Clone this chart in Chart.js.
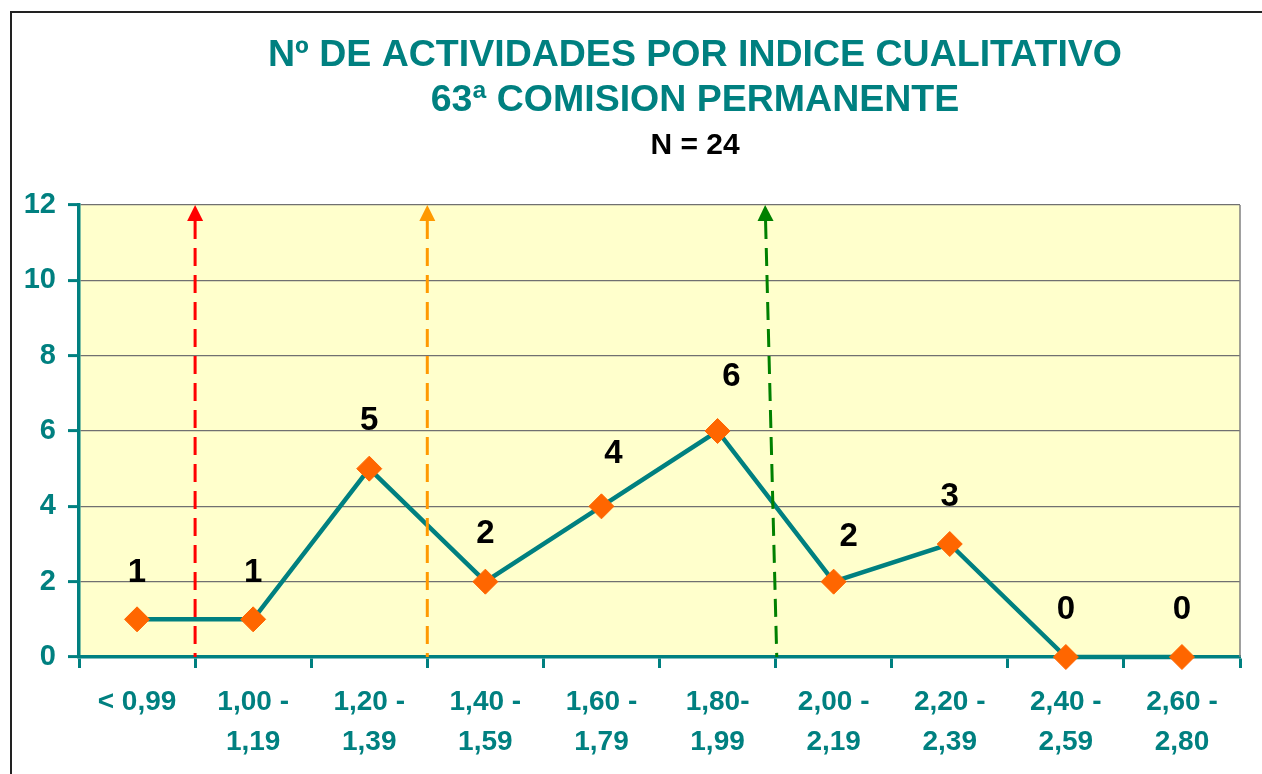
<!DOCTYPE html>
<html>
<head>
<meta charset="utf-8">
<script src="https://cdn.jsdelivr.net/npm/chart.js@4/dist/chart.umd.min.js"></script>
<style>
  html, body { margin: 0; padding: 0; background: #ffffff; }
  #wrap { width: 1262px; height: 774px; }
</style>
</head>
<body>
<div id="wrap"><canvas id="c" width="1262" height="774"></canvas></div>
<script>
// ---- data ----
const titleLines = ['Nº DE ACTIVIDADES POR INDICE CUALITATIVO', '63ª COMISION PERMANENTE'];
const subtitleText = 'N = 24';
const categories = [
  ['< 0,99'],
  ['1,00 -', '1,19'],
  ['1,20 -', '1,39'],
  ['1,40 -', '1,59'],
  ['1,60 -', '1,79'],
  ['1,80-', '1,99'],
  ['2,00 -', '2,19'],
  ['2,20 -', '2,39'],
  ['2,40 -', '2,59'],
  ['2,60 -', '2,80']
];
const activityCounts = [1, 1, 5, 2, 4, 6, 2, 3, 0, 0];
const yMin = 0, yMax = 12, yStep = 2;
// threshold arrows, in category-index units (boundary between classes)
const arrowBottomIdx = [0.5, 2.5, 5.51];
const arrowTopIdx    = [0.5, 2.5, 5.41];
const arrowColors = ['#FF0000', '#FF9900', '#008000'];

// ---- style ----
const FONT = "'Liberation Sans', Arial, Helvetica, sans-serif";
const TEAL = '#008080';
const labelDx = [0, 0, 0, 0, 12, 14, 15, 0, 0, 0];
const labelDy = [46, 46, 48, 48, 52, 54, 45, 47, 47, 47];

Chart.defaults.font.family = FONT;

const decorPlugin = {
  id: 'decor',
  beforeDraw(chart) {
    const { ctx, chartArea: a } = chart;
    ctx.save();
    ctx.fillStyle = '#ffffff';
    ctx.fillRect(0, 0, chart.width, chart.height);
    ctx.fillStyle = '#FFFFCC';
    ctx.fillRect(a.left, a.top, a.right - a.left, a.bottom - a.top);
    ctx.restore();
  },
  afterDatasetsDraw(chart) {
    const { ctx, chartArea: a } = chart;
    const xs = chart.scales.x, ys = chart.scales.y;
    ctx.save();
    // right border of plot
    ctx.strokeStyle = '#808080';
    ctx.lineWidth = 1.5;
    ctx.beginPath();
    ctx.moveTo(a.right, a.top);
    ctx.lineTo(a.right, a.bottom);
    ctx.stroke();
    // threshold arrows
    const yTop = ys.getPixelForValue(yMax);
    const yBot = ys.getPixelForValue(yMin);
    arrowBottomIdx.forEach((bi, i) => {
      const xb = xs.getPixelForValue(bi);
      const xt = xs.getPixelForValue(arrowTopIdx[i]);
      const headH = 16, headW = 8;
      const t = headH / (yBot - yTop);
      const xHeadBase = xt + (xb - xt) * t;
      ctx.strokeStyle = arrowColors[i];
      ctx.fillStyle = arrowColors[i];
      ctx.lineWidth = 3;
      ctx.setLineDash([18, 9]);
      ctx.beginPath();
      ctx.moveTo(xHeadBase, yTop + headH);
      ctx.lineTo(xb, yBot);
      ctx.stroke();
      ctx.setLineDash([]);
      ctx.beginPath();
      ctx.moveTo(xt, yTop);
      ctx.lineTo(xHeadBase - headW, yTop + headH);
      ctx.lineTo(xHeadBase + headW, yTop + headH);
      ctx.closePath();
      ctx.fill();
    });
    // data labels
    ctx.fillStyle = '#000000';
    ctx.font = 'bold 33px ' + FONT;
    ctx.textAlign = 'center';
    ctx.textBaseline = 'middle';
    const meta = chart.getDatasetMeta(0);
    meta.data.forEach((pt, i) => {
      ctx.fillText(String(activityCounts[i]), pt.x + labelDx[i], pt.y - labelDy[i]);
    });
    ctx.restore();
  },
  afterDraw(chart) {
    const { ctx } = chart;
    ctx.save();
    // outer frame (top & left visible)
    ctx.strokeStyle = '#222222';
    ctx.lineWidth = 2;
    ctx.beginPath();
    ctx.moveTo(11, chart.height + 5);
    ctx.lineTo(11, 12);
    ctx.lineTo(chart.width + 5, 12);
    ctx.stroke();
    // titles
    const cx = 695;
    ctx.textAlign = 'center';
    ctx.textBaseline = 'alphabetic';
    ctx.fillStyle = TEAL;
    ctx.font = 'bold 37.5px ' + FONT;
    ctx.fillText(titleLines[0], cx, 66);
    ctx.fillText(titleLines[1], cx, 111);
    ctx.fillStyle = '#000000';
    ctx.font = 'bold 30px ' + FONT;
    ctx.fillText(subtitleText, cx, 154);
    ctx.restore();
  }
};

new Chart(document.getElementById('c'), {
  type: 'line',
  data: {
    labels: categories,
    datasets: [{
      data: activityCounts,
      borderColor: TEAL,
      borderWidth: 4.5,
      pointStyle: 'rectRot',
      pointRadius: 12.5,
      pointHoverRadius: 12.5,
      pointBackgroundColor: '#FF6600',
      pointBorderColor: '#FF6600',
      pointBorderWidth: 1,
      tension: 0,
      clip: false
    }]
  },
  options: {
    responsive: false,
    animation: false,
    devicePixelRatio: 1,
    events: [],
    layout: { padding: { top: 205, right: 22, bottom: 0, left: 0 } },
    plugins: { legend: { display: false }, title: { display: false }, tooltip: { enabled: false } },
    scales: {
      x: {
        type: 'category',
        offset: true,
        afterFit(s) { s.height = 117; },
        border: { display: true, color: TEAL, width: 3.5 },
        grid: {
          offset: true,
          drawOnChartArea: false,
          drawTicks: true,
          tickColor: TEAL,
          tickWidth: 3,
          tickLength: 11
        },
        ticks: {
          color: TEAL,
          font: { size: 28, weight: 'bold', lineHeight: 1.43 },
          padding: 14,
          maxRotation: 0,
          autoSkip: false
        }
      },
      y: {
        min: yMin,
        max: yMax,
        afterFit(s) { s.width = 79; },
        border: { display: true, color: TEAL, width: 3.5 },
        grid: {
          color: '#707070',
          lineWidth: 1.2,
          drawTicks: true,
          tickColor: TEAL,
          tickWidth: 3,
          tickLength: 11
        },
        ticks: {
          stepSize: yStep,
          color: TEAL,
          font: { size: 29, weight: 'bold' },
          padding: 12
        }
      }
    }
  },
  plugins: [decorPlugin]
});
</script>
</body>
</html>
